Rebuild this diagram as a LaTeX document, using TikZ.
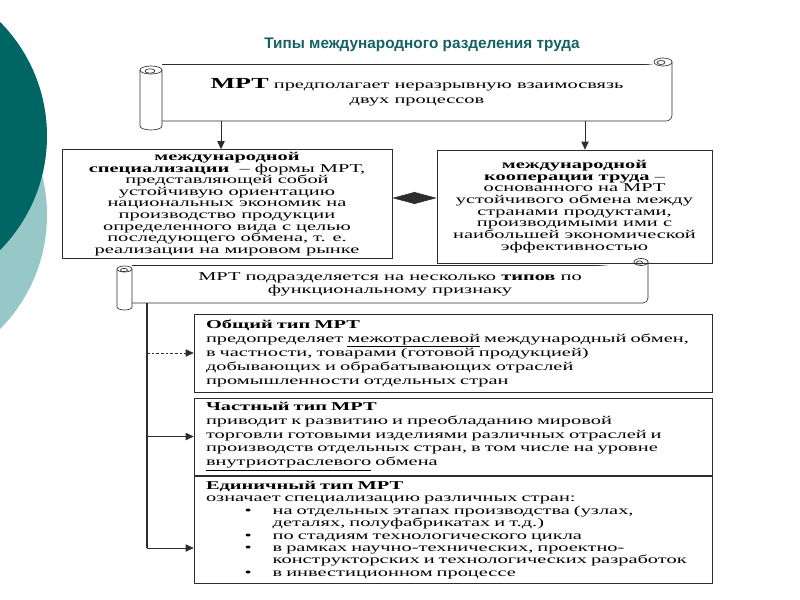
\documentclass[tikz,border=0pt]{standalone}
\usepackage{fontspec}
\setmainfont{Liberation Serif}
\newfontfamily\scanfont[FakeStretch=1.7,Ligatures=TeX]{Liberation Serif}
\newfontfamily\titlefont{Liberation Sans}
\usepackage{tikz}
\usetikzlibrary{arrows.meta,calc}
\definecolor{DeepTeal}{RGB}{0,102,100}
\definecolor{PaleTeal}{RGB}{150,200,200}
\definecolor{TitleTeal}{RGB}{22,98,98}
\definecolor{Ink}{RGB}{45,45,45}
\newcommand{\bulitem}{\hspace*{29pt}\makebox[21pt][l]{\textbullet}}
\newcommand{\bulcont}{\hspace*{50pt}}

\begin{document}
\begin{tikzpicture}[
  x=0.75pt, y=-0.75pt,
  roll/.style={draw=Ink, line width=0.5pt, fill=white},
  scrolltext/.style={
    align=center,
    inner sep=0pt,
    font=\scanfont\fontsize{9pt}{11.25pt}\selectfont
  },
  card/.style={
    draw=Ink,
    line width=0.5pt,
    align=center,
    inner sep=2pt,
    font=\scanfont\fontsize{9pt}{8.7pt}\selectfont
  },
  typebox/.style={
    draw=Ink,
    line width=0.5pt,
    align=left,
    inner xsep=9pt,
    text width=370.5pt,
    font=\scanfont\fontsize{9pt}{10.5pt}\selectfont
  },
  flow/.style={-{Triangle[length=6pt,width=5.5pt]}, line width=0.5pt, Ink},
  tie/.style={{Triangle[length=17pt,width=9pt]}-{Triangle[length=17pt,width=9pt]}, Ink},
  trunk/.style={line width=1.2pt, Ink}
]
\useasboundingbox (0,0) rectangle (800,600);

% slide background
\fill[PaleTeal] (-115,215) circle[radius=162];
\fill[DeepTeal] (-115,136) circle[radius=162];

\node[font=\titlefont\bfseries\fontsize{11.5pt}{13pt}\selectfont, text=TitleTeal]
  (title) at (422,45) {Типы международного разделения труда};

% first scroll
\draw[roll] (162,64) -- (658,64);
\draw[roll] (672,62) -- (672,115) arc[start angle=0, end angle=90, radius=6] -- (162,121);
\draw[roll] (663,62) ellipse[x radius=9, y radius=4];
\draw[roll] (661,62.5) ellipse[x radius=4, y radius=2];
\draw[roll] (140,70) -- (140,126) arc[start angle=180, end angle=0, x radius=11, y radius=4] -- (162,70);
\draw[roll] (151,70) ellipse[x radius=11, y radius=4];
\draw[roll] (150,71) ellipse[x radius=5, y radius=2.2];

% second scroll
\draw[roll] (132,265) -- (635,265);
\draw[roll] (648,262) -- (648,298) arc[start angle=0, end angle=90, radius=5] -- (132,303);
\draw[roll] (641,262) ellipse[x radius=7, y radius=3.5];
\draw[roll] (639.5,262.5) ellipse[x radius=3, y radius=1.6];
\draw[roll] (117,269) -- (117,307) arc[start angle=180, end angle=0, x radius=7.5, y radius=3] -- (132,269);
\draw[roll] (124.5,269) ellipse[x radius=7.5, y radius=3];
\draw[roll] (124,270) ellipse[x radius=3.5, y radius=1.6];

\node[scrolltext, minimum width=382.5pt, minimum height=42.75pt] (premise) at (417,92.5)
{{\bfseries\fontsize{11.5pt}{12pt}\selectfont МРТ} предполагает неразрывную взаимосвязь\\
двух процессов};

\node[card, minimum width=247.5pt, minimum height=81pt] (spec) at (227,204)
{\textbf{международной}\\
\textbf{специализации} \ – формы МРТ,\\
представляющей собой\\
устойчивую ориентацию\\
национальных экономик на\\
производство продукции\\
определенного вида с целью\\
последующего обмена, т. е.\\
реализации на мировом рынке};

\node[card, minimum width=206.25pt, minimum height=84.75pt,
  font=\scanfont\fontsize{9pt}{8.8pt}\selectfont] (coop) at (574.5,206.5)
{\textbf{международной}\\
\textbf{кооперации труда} –\\
основанного на МРТ\\
устойчивого обмена между\\
странами продуктами,\\
производимыми ими с\\
наибольшей экономической\\
эффективностью};

\node[scrolltext, minimum width=387pt, minimum height=28.5pt,
  font=\scanfont\fontsize{9pt}{9.75pt}\selectfont] (kinds) at (390,284)
{МРТ подразделяется на несколько \textbf{типов} по\\
функциональному признаку};

\node[typebox, minimum height=58.5pt] (general) at (453,353)
{\textbf{Общий тип МРТ}\\
предопределяет \underline{межотраслевой} международный обмен,\\
в частности, товарами (готовой продукцией)\\
добывающих и обрабатывающих отраслей\\
промышленности отдельных стран};

\node[typebox, minimum height=53.25pt,
  font=\scanfont\fontsize{9pt}{10.3pt}\selectfont] (partial) at (453,436.5)
{\textbf{Частный тип МРТ}\\
приводит к развитию и преобладанию мировой\\
торговли готовыми изделиями различных отраслей и\\
производств отдельных стран, в том числе на уровне\\
\underline{внутриотраслевого} обмена};

\node[typebox, minimum height=79.5pt,
  font=\scanfont\fontsize{9pt}{9.3pt}\selectfont] (single) at (453,530)
{\textbf{Единичный тип МРТ}\\
означает специализацию различных стран:\\
\bulitem на отдельных этапах производства (узлах,\\
\bulcont деталях, полуфабрикатах и т.д.)\\
\bulitem по стадиям технологического цикла\\
\bulitem в рамках научно-технических, проектно-\\
\bulcont конструкторских и технологических разработок\\
\bulitem в инвестиционном процессе};

\draw[flow] ($(spec.north |- premise.south)+(-6,0)$) -- ($(spec.north)+(-6,0)$);
\draw[flow] ($(coop.north |- premise.south)+(10.5,0)$) -- ($(coop.north)+(10.5,0)$);

\draw[tie] ($(spec.east)+(0,-6)$) -- ($(spec.east -| coop.west)+(0,-6)$);

\coordinate (fork) at (147,303);
\draw[trunk] (fork) -- ($(single.west -| fork)+(0,18)$);
\draw[flow, dash pattern=on 2pt off 1.5pt] (general.west -| fork) -- (general.west);
\draw[flow] (partial.west -| fork) -- (partial.west);
\draw[flow] ($(single.west -| fork)+(0,18)$) -- ($(single.west)+(0,18)$);
\end{tikzpicture}
\end{document}
